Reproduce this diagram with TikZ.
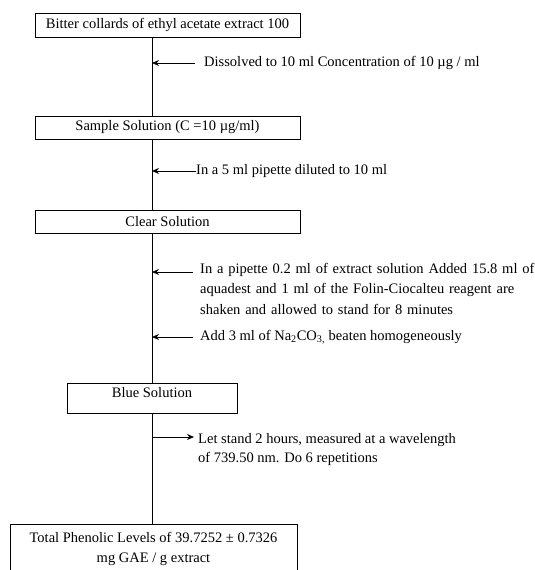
\documentclass[tikz,border=0pt]{standalone}
\usepackage{fontspec}
\setmainfont{Liberation Serif}
\usetikzlibrary{arrows.meta}
\begin{document}
\begin{tikzpicture}[x=1pt,y=-1pt,
  font=\fontsize{14.5}{20}\selectfont,
  box/.style={draw, line width=0.8pt, inner sep=0pt},
  note/.style={anchor=west, inner sep=0pt, align=left},
  spine/.style={line width=0.8pt},
  side/.style={line width=0.8pt, -{Stealth[length=7pt,width=6pt]}}]
\useasboundingbox (0,0) rectangle (535,570);
% boxes
\node[box, minimum width=265pt, minimum height=24pt] (bitter) at (167.5,25) {Bitter collards of ethyl acetate extract 100};
\node[box, minimum width=265pt, minimum height=23pt] (sample) at (167.5,127.5) {Sample Solution (C =10 µg/ml)};
\node[box, minimum width=265pt, minimum height=23pt] (clear) at (167.5,222) {Clear Solution};
\node[box, minimum width=170pt, minimum height=30pt, text height=11pt, text depth=13pt] (blue) at (152,398) {Blue Solution};
\node[box, anchor=north, minimum width=287pt, minimum height=50pt, align=center, inner ysep=3pt] (total) at (153.5,524) {Total Phenolic Levels of 39.7252 ± 0.7326\\ mg GAE / g extract};
% main line
\draw[spine] (bitter.south -| blue) -- (sample.north -| blue);
\draw[spine] (sample.south -| blue) -- (clear.north -| blue);
\draw[spine] (clear.south -| blue) -- (blue.north);
\draw[spine] (blue.south) -- (total.north -| blue);
% side notes
\node[note] (dissolve) at (204,63) {Dissolved to 10 ml Concentration of 10 µg / ml};
\draw[side] ([xshift=-9pt]dissolve.west) -- (dissolve.west -| blue);
\node[note] (pipette) at (196,171) {In a 5 ml pipette diluted to 10 ml};
\draw[side] (pipette.west) -- (pipette.west -| blue);
\node[note, anchor=north west, text width=360pt, font=\fontsize{14.5}{20.5}\selectfont] (folin) at (200,263) {In a pipette 0.2 ml of extract solution Added 15.8 ml of\\ aquadest and 1 ml of the Folin-Ciocalteu reagent are\\ shaken and allowed to stand for 8 minutes};
\coordinate (folinin) at (193,272);
\draw[side] (folinin) -- (folinin -| blue);
\node[note] (sodium) at (200,337) {Add 3 ml of Na\textsubscript{2}CO\textsubscript{3,} beaten homogeneously};
\draw[side] ([xshift=-7pt]sodium.west) -- (sodium.west -| blue);
\node[note, anchor=north west, font=\fontsize{14.5}{19}\selectfont] (stand) at (198,433) {Let stand 2 hours, measured at a wavelength\\ of 739.50 nm. Do 6 repetitions};
\coordinate (standin) at (194,437);
\draw[side] (standin -| blue) -- (standin);
\end{tikzpicture}
\end{document}
